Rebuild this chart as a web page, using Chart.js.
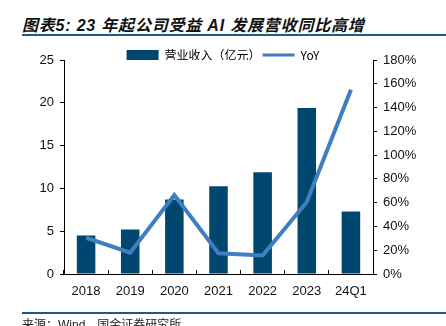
<!DOCTYPE html>
<html>
<head>
<meta charset="utf-8">
<script src="https://cdn.jsdelivr.net/npm/chart.js@4.4.1/dist/chart.umd.min.js"></script>
<style>
    html, body { margin: 0; padding: 0; background: #fff; overflow: hidden; }
    #wrap { position: relative; width: 446px; height: 326px; }
    #chart { position: absolute; left: 0; top: 0; }
    .title {
        position: absolute; left: 22px; top: 12px;
        font: italic bold 16px "Liberation Sans", "Noto Sans CJK SC", sans-serif;
        letter-spacing: 0.8px;
        color: #111; white-space: nowrap;
    }
    .rule { position: absolute; left: 22px; right: 0; height: 2px; background: #1d5a86; }
    .source {
        position: absolute; left: 22px; top: 315px;
        font: 12px "Liberation Sans", "Noto Sans CJK SC", sans-serif; color: #222;
    }
</style>
</head>
<body>
<div id="wrap">
    <div class="title">图表5: 23 年起公司受益 AI 发展营收同比高增</div>
    <div class="rule" style="top:34px"></div>
    <canvas id="chart" width="446" height="326"></canvas>
    <div class="rule" style="top:312px"></div>
    <div class="source">来源：Wind，国金证券研究所</div>
</div>
<script>
const categories = ['2018', '2019', '2020', '2021', '2022', '2023', '24Q1'];
const revenue = [4.5, 5.2, 8.7, 10.25, 11.9, 19.4, 7.3];
const yoy = [30.5, 18, 66.5, 17.5, 15.5, 60.5, 155];

const barColor = '#00476f';
const lineColor = '#3f7fc0';
const font = { family: '"Liberation Sans", Arial, sans-serif', size: 13 };

// keep the legend close to the plot: shrink the space it reserves
const tightLegend = {
    id: 'tightLegend',
    beforeUpdate(chart) {
        const legend = chart.legend;
        if (!legend || legend._tightPatched) return;
        const fit = legend.fit.bind(legend);
        legend.fit = function() {
            fit();
            this.height = 13;
        };
        legend._tightPatched = true;
    },
};

new Chart(document.getElementById('chart'), {
    type: 'bar',
    data: {
        labels: categories,
        datasets: [
            {
                type: 'line',
                label: 'YoY',
                data: yoy,
                yAxisID: 'y2',
                borderColor: lineColor,
                backgroundColor: lineColor,
                borderWidth: 4,
                pointRadius: 0,
                tension: 0,
                order: 0,
            },
            {
                label: '营业收入（亿元）',
                data: revenue,
                yAxisID: 'y',
                backgroundColor: barColor,
                categoryPercentage: 1,
                barPercentage: 0.42,
                order: 1,
            },
        ],
    },
    plugins: [tightLegend],
    options: {
        responsive: false,
        animation: false,
        layout: { padding: { top: 47, left: 0, right: 0, bottom: 0 } },
        plugins: {
            legend: {
                position: 'top',
                reverse: true,
                labels: {
                    usePointStyle: true,
                    pointStyleWidth: 32,
                    boxHeight: 10,
                    padding: 2,
                    color: '#333',
                    font: { family: '"Noto Sans CJK SC", "Liberation Sans", sans-serif', size: 12 },
                    generateLabels(chart) {
                        return chart.data.datasets.map((ds, i) => ({
                            text: ds.label,
                            fillStyle: ds.type === 'line' ? lineColor : barColor,
                            strokeStyle: ds.type === 'line' ? lineColor : barColor,
                            lineWidth: ds.type === 'line' ? 3 : 0,
                            pointStyle: ds.type === 'line' ? 'line' : 'rect',
                            datasetIndex: i,
                        }));
                    },
                },
            },
            tooltip: { enabled: false },
        },
        scales: {
            x: {
                offset: true,
                grid: {
                    offset: true,
                    drawOnChartArea: false,
                    color: '#000',
                    tickLength: -4,
                },
                border: { color: '#000', width: 1 },
                ticks: { color: '#111', font, padding: 14 },
                afterFit(scale) { scale.height = 52; },
            },
            y: {
                position: 'left',
                min: 0,
                max: 25,
                ticks: { stepSize: 5, color: '#111', font, padding: 6 },
                grid: { drawOnChartArea: false, color: '#000', tickLength: 4 },
                border: { color: '#000', width: 1 },
                afterFit(scale) { scale.width = 64; },
            },
            y2: {
                position: 'right',
                min: 0,
                max: 180,
                ticks: {
                    stepSize: 20,
                    color: '#111',
                    font,
                    padding: 6,
                    callback: v => v + '%',
                },
                grid: { drawOnChartArea: false, color: '#000', tickLength: 4 },
                border: { color: '#000', width: 1 },
                afterFit(scale) { scale.width = 73; },
            },
        },
    },
});
</script>
</body>
</html>
